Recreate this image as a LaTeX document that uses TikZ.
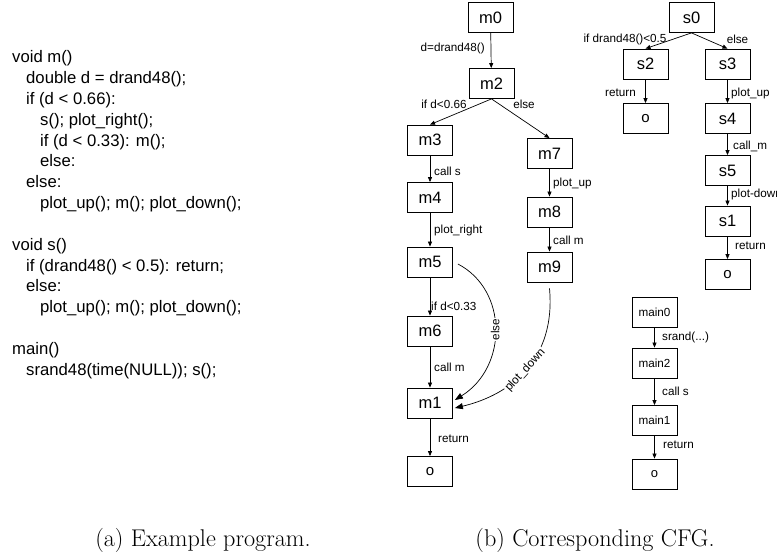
\documentclass[tikz,border=0pt]{standalone}
\usepackage{fontspec}
\newfontfamily\arial{Liberation Sans}
\usetikzlibrary{arrows.meta,calc}
\begin{document}
\begin{tikzpicture}[x=1pt,y=-1pt,
  box/.style={draw, line width=0.8pt, minimum width=45pt, minimum height=30pt, inner sep=0pt, font=\arial\fontsize{16.5}{18}\selectfont},
  obox/.style={box, font=\arial\fontsize{15}{18}\selectfont},
  smallbox/.style={box, font=\arial\fontsize{11.7}{14}\selectfont},
  elab/.style={font=\arial\fontsize{11.7}{14}\selectfont, inner sep=1pt},
  codeline/.style={anchor=base west, inner sep=0pt, font=\arial\fontsize{16.7}{20}\selectfont},
  flow/.style={line width=0.7pt, -{Triangle[length=5pt,width=4pt]}},
  curved/.style={line width=0.7pt, -{Triangle[length=8pt,width=6pt]}},
  captext/.style={anchor=base, inner sep=0pt, font=\fontsize{24.2}{29}\selectfont}]
\useasboundingbox (0,0) rectangle (777,554);

% ---- code ----
\node[codeline] (c1)  at (12,62)  {void m()};
\node[codeline] (c2)  at (26,83)  {double d = drand48();};
\node[codeline] (c3)  at (26,104) {if (d < 0.66):};
\node[codeline] (c4)  at (40,125) {s(); plot\_right();};
\node[codeline] (c5)  at (40,146) {if (d < 0.33): m();};
\node[codeline] (c6)  at (40,166) {else:};
\node[codeline] (c7)  at (26,187) {else:};
\node[codeline] (c8)  at (40,208) {plot\_up(); m(); plot\_down();};
\node[codeline] (c10) at (12,250) {void s()};
\node[codeline] (c11) at (26,271) {if (drand48() < 0.5): return;};
\node[codeline] (c12) at (26,291) {else:};
\node[codeline] (c13) at (40,312) {plot\_up(); m(); plot\_down();};
\node[codeline] (c15) at (12,354) {main()};
\node[codeline] (c16) at (26,375) {srand48(time(NULL)); s();};

% ---- m graph ----
\node[box] (m0) at (490.5,17.5) {m0};
\node[box] (m2) at (491.5,83.5) {m2};
\node[box] (m3) at (430,140) {m3};
\node[box] (m4) at (430,197.5) {m4};
\node[box] (m5) at (430,262) {m5};
\node[box] (m6) at (430,331) {m6};
\node[box] (m1) at (430,403) {m1};
\node[obox] (mo) at (430,471.5) {o};
\node[box] (m7) at (549.5,153.5) {m7};
\node[box] (m8) at (549.5,212) {m8};
\node[box] (m9) at (549.5,267) {m9};

\draw[flow] (m0) -- (m2);
\draw[flow] (m2.south) -- (m3.north);
\draw[flow] (m2.south) -- (m7.north);
\draw[flow] (m3) -- (m4);
\draw[flow] (m4) -- (m5);
\draw[flow] (m5) -- (m6);
\draw[flow] (m6) -- (m1);
\draw[flow] (m1) -- (mo);
\draw[flow] (m7) -- (m8);
\draw[flow] (m8) -- (m9);
\draw[curved] ($(m5.east)+(5,2)$) .. controls (508,290) and (508,367) .. ($(m1.east)+(2,-3)$)
  node[pos=0.5, rotate=90, fill=white, elab] (lelse) {else};
\draw[curved] ($(m9.south)+(0,6)$) .. controls (556,360) and (510,395) .. ($(m1.east)+(2,5)$)
  node[pos=0.5, sloped, fill=white, elab] (lpd) {plot\_down};

\node[elab, anchor=east] (l1) at (486,48) {d=drand48()};
\node[elab] (l2) at (444,104) {if d<0.66};
\node[elab] (l3) at (524,104) {else};
\node[elab, anchor=west] (l4) at (433,171) {call s};
\node[elab, anchor=west] (l5) at (433,230) {plot\_right};
\node[elab, anchor=west] (l6) at (430,306) {if d<0.33};
\node[elab, anchor=west] (l7) at (433,367) {call m};
\node[elab, anchor=west] (l8) at (437,439) {return};
\node[elab, anchor=west] (l9) at (552,183) {plot\_up};
\node[elab, anchor=west] (l10) at (552,240) {call m};

% ---- s graph ----
\node[box] (s0) at (691.5,17.5) {s0};
\node[box] (s2) at (645.5,64) {s2};
\node[box] (s3) at (727.5,64) {s3};
\node[obox] (so1) at (645.5,118.5) {o};
\node[box] (s4) at (727.5,118.5) {s4};
\node[box] (s5) at (727.5,170.5) {s5};
\node[box] (s1) at (727.5,221) {s1};
\node[obox] (so2) at (727.5,274.5) {o};

\draw[flow] (s0.south) -- (s2.north);
\draw[flow] (s0.south) -- (s3.north);
\draw[flow] (s2) -- (so1);
\draw[flow] (s3) -- (s4);
\draw[flow] (s4) -- (s5);
\draw[flow] (s5) -- (s1);
\draw[flow] (s1) -- (so2);

\node[elab] (k1) at (625,39) {if drand48()<0.5};
\node[elab] (k2) at (737.5,39) {else};
\node[elab, anchor=east] (k3) at (637,93) {return};
\node[elab, anchor=west] (k4) at (730,93) {plot\_up};
\node[elab, anchor=west] (k5) at (732,146) {call\_m};
\node[elab, anchor=west] (k6) at (730,194) {plot-down};
\node[elab, anchor=west] (k7) at (734,246) {return};

% ---- main graph ----
\node[smallbox] (n0) at (654.5,312.5) {main0};
\node[smallbox] (n2) at (654.5,363) {main2};
\node[smallbox] (n1) at (654.5,420.5) {main1};
\node[obox, font=\arial\fontsize{13}{15}\selectfont] (no) at (654.5,474) {o};

\draw[flow] (n0) -- (n2);
\draw[flow] (n2) -- (n1);
\draw[flow] (n1) -- (no);

\node[elab, anchor=west] (j1) at (661,337) {srand(...)};
\node[elab, anchor=west] (j2) at (661,391) {call s};
\node[elab, anchor=west] (j3) at (662,445) {return};

% ---- captions ----
\node[captext] (capa) at (203,546) {(a) Example program.};
\node[captext] (capb) at (595,546) {(b) Corresponding CFG.};
\end{tikzpicture}
\end{document}
